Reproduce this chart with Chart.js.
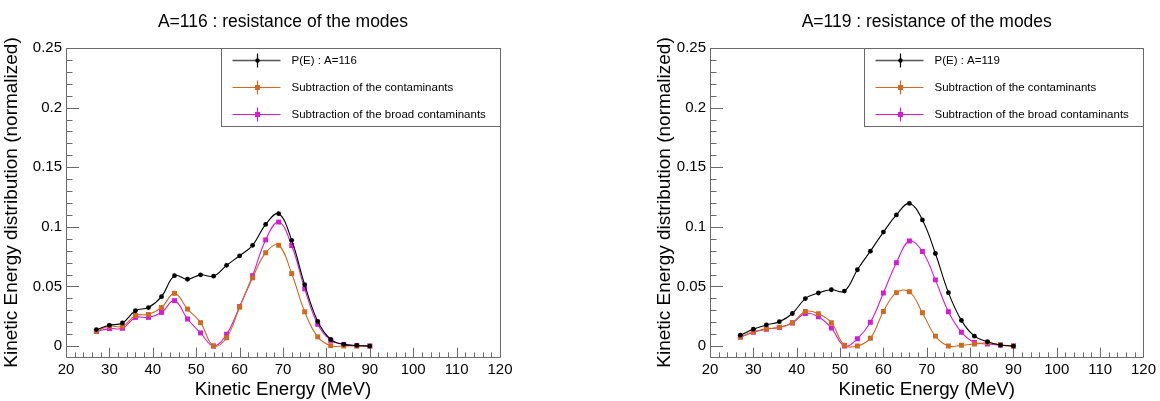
<!DOCTYPE html>
<html>
<head>
<meta charset="utf-8">
<script src="https://cdn.jsdelivr.net/npm/chart.js@4.4.1/dist/chart.umd.min.js"></script>
<style>
  html, body { margin: 0; padding: 0; background: #ffffff; }
  #wrap { position: relative; width: 1160px; height: 401px; overflow: hidden; }
  canvas { position: absolute; top: 0; }
  #c1 { left: 0; }
  #c2 { left: 580px; }
</style>
</head>
<body>
<div id="wrap">
  <canvas id="c1" width="580" height="401"></canvas>
  <canvas id="c2" width="580" height="401"></canvas>
</div>
<script>
// ---------- data ----------
const energies = [27, 30, 33, 36, 39, 42, 45, 48, 51, 54, 57, 60, 63, 66, 69, 72, 75, 78, 81, 84, 87, 90];

const a116Total = [0.0138, 0.0174, 0.0193, 0.0296, 0.0323, 0.0414, 0.0590, 0.0560, 0.0597, 0.0586, 0.0677, 0.0757,
                   0.0845, 0.1020, 0.1110, 0.0887, 0.0514, 0.0207, 0.0055, 0.0014, 0.0005, 0.0];
const a116Sub   = [0.0124, 0.0166, 0.0166, 0.0257, 0.0265, 0.0323, 0.0442, 0.0310, 0.0196, 0.0, 0.0069, 0.0326,
                   0.0572, 0.0782, 0.0845, 0.0608, 0.0287, 0.0077, 0.0003, 0.0, 0.0, 0.0];
const a116Broad = [0.0122, 0.0146, 0.0149, 0.0240, 0.0240, 0.0282, 0.0381, 0.0227, 0.0110, 0.0, 0.0099, 0.0331,
                   0.0590, 0.0890, 0.1040, 0.0843, 0.0480, 0.0182, 0.0047, 0.0014, 0.0003, 0.0];

const a119Total = [0.0091, 0.0141, 0.0177, 0.0204, 0.0273, 0.0398, 0.0445, 0.0472, 0.0461, 0.0640, 0.0796, 0.0956,
                   0.1100, 0.1196, 0.1058, 0.0776, 0.0448, 0.0215, 0.0083, 0.0036, 0.0008, 0.0];
const a119Sub   = [0.0075, 0.0119, 0.0144, 0.0157, 0.0196, 0.0290, 0.0271, 0.0196, 0.0006, 0.0, 0.0066, 0.0290,
                   0.0448, 0.0456, 0.0279, 0.0083, 0.0, 0.0006, 0.0017, 0.0028, 0.0010, 0.0];
const a119Broad = [0.0075, 0.0116, 0.0141, 0.0155, 0.0193, 0.0273, 0.0246, 0.0152, 0.0, 0.0061, 0.0199, 0.0445,
                   0.0699, 0.0881, 0.0793, 0.0555, 0.0287, 0.0116, 0.0030, 0.0017, 0.0006, 0.0];

const xTickValues = [20, 30, 40, 50, 60, 70, 80, 90, 100, 110, 120];
const yTickValues = [0, 0.05, 0.1, 0.15, 0.2, 0.25];

const titles = ['A=116 : resistance of the modes', 'A=119 : resistance of the modes'];
const legendLabels116 = ['P(E) : A=116', 'Subtraction of the contaminants', 'Subtraction of the broad contaminants'];
const legendLabels119 = ['P(E) : A=119', 'Subtraction of the contaminants', 'Subtraction of the broad contaminants'];

// ---------- style ----------
const FONT = '"Liberation Sans", Arial, Helvetica, sans-serif';
const COL_BLACK = '#000000';
const COL_ORANGE = '#d2691e';
const COL_MAGENTA = '#d61ad6';
const FRAME_COL = '#6a6a6a';

const framePlugin = {
  id: 'rootFrame',
  beforeDatasetsDraw(chart) {
    const ctx = chart.ctx;
    const ca = chart.chartArea;
    const xs = chart.scales.x, ys = chart.scales.y;
    ctx.save();
    ctx.strokeStyle = FRAME_COL;
    ctx.lineWidth = 1;
    ctx.beginPath();
    ctx.rect(Math.round(ca.left) + 0.5, Math.round(ca.top) + 0.5,
             Math.round(ca.right - ca.left), Math.round(ca.bottom - ca.top));
    ctx.stroke();
    const h = ca.bottom - ca.top, w = ca.right - ca.left;
    const xMaj = 0.03 * h, xMin = xMaj / 2;
    ctx.beginPath();
    for (let v = 20; v <= 120 + 1e-9; v += 2) {
      const px = Math.round(xs.getPixelForValue(v)) + 0.5;
      const len = (Math.abs(v % 10) < 1e-9) ? xMaj : xMin;
      ctx.moveTo(px, ca.bottom);
      ctx.lineTo(px, ca.bottom - len);
    }
    const yMaj = 0.03 * w, yMin = yMaj / 2;
    for (let i = 0; i <= 25; i++) {
      const v = i * 0.01;
      const py = Math.round(ys.getPixelForValue(v)) + 0.5;
      const len = (i % 5 === 0) ? yMaj : yMin;
      ctx.moveTo(ca.left, py);
      ctx.lineTo(ca.left + len, py);
    }
    ctx.stroke();
    ctx.restore();
  },
  afterDraw(chart) {
    const ctx = chart.ctx;
    const ca = chart.chartArea;
    const labels = chart.options.plugins.rootLegend.labels;
    const bw = 279, bh = 78;
    const x0 = Math.round(ca.right - bw) + 0.5, y0 = Math.round(ca.top) + 0.5;
    ctx.save();
    ctx.fillStyle = '#ffffff';
    ctx.fillRect(x0, y0, bw, bh);
    ctx.strokeStyle = FRAME_COL;
    ctx.lineWidth = 1;
    ctx.strokeRect(x0, y0, bw, bh);
    const rows = [12, 39, 66];
    chart.data.datasets.forEach((ds, i) => {
      const y = Math.round(ca.top + rows[i]) + 0.5;
      const mx = x0 + 36;
      ctx.strokeStyle = i === 0 ? '#555555' : ds.borderColor;
      ctx.lineWidth = i === 0 ? 1.6 : 1.2;
      ctx.beginPath();
      ctx.moveTo(x0 + 11, y); ctx.lineTo(x0 + 59, y);
      ctx.stroke();
      ctx.strokeStyle = ds.borderColor;
      ctx.lineWidth = 1.2;
      ctx.beginPath();
      ctx.moveTo(mx, y - 7); ctx.lineTo(mx, y + 7);
      ctx.stroke();
      ctx.fillStyle = ds.pointBackgroundColor;
      ctx.beginPath();
      if (ds.pointStyle === 'circle') {
        ctx.arc(mx, y, 2.2, 0, Math.PI * 2);
      } else {
        ctx.rect(mx - 2.5, y - 2.5, 5, 5);
      }
      ctx.fill();
      ctx.fillStyle = '#000000';
      ctx.font = '11.5px ' + FONT;
      ctx.textAlign = 'left';
      ctx.textBaseline = 'middle';
      ctx.fillText(labels[i], x0 + 70, y);
    });
    ctx.restore();
  }
};

function makeDataset(label, values, color, style) {
  return {
    label: label,
    data: energies.map((e, i) => ({ x: e, y: values[i] })),
    borderColor: color,
    backgroundColor: color,
    pointBackgroundColor: color,
    pointBorderColor: color,
    pointBorderWidth: 0,
    pointStyle: style,
    pointRadius: style === 'circle' ? 2.4 : 3.5,
    borderWidth: 1.1,
    tension: 0.4,
    fill: false
  };
}

function makeChart(id, title, legendLabels, tot, sub, broad, side) {
  const isLeft = side === 'left';
  const padLeft = isLeft ? 0 : 70;
  const yWidth = isLeft ? 66 : 60;
  const padRight = isLeft ? 80 : 16;
  const yTitlePad = isLeft ? 0.5 : 3.5;
  return new Chart(document.getElementById(id), {
    type: 'line',
    data: {
      datasets: [
        makeDataset(legendLabels[0], tot, COL_BLACK, 'circle'),
        makeDataset(legendLabels[1], sub, COL_ORANGE, 'rect'),
        makeDataset(legendLabels[2], broad, COL_MAGENTA, 'rect')
      ]
    },
    options: {
      responsive: false,
      animation: false,
      devicePixelRatio: 1,
      layout: { padding: { left: padLeft, right: padRight, top: 11.5, bottom: 0 } },
      plugins: {
        legend: { display: false },
        tooltip: { enabled: false },
        title: {
          display: true,
          text: title,
          color: '#000000',
          font: { family: FONT, size: 17.5, weight: 'normal' },
          padding: { top: 0, bottom: 15.5 },
          fullSize: false
        },
        rootLegend: { labels: legendLabels }
      },
      scales: {
        x: {
          type: 'linear',
          min: 20, max: 120,
          grid: { display: false, drawTicks: false },
          border: { display: false },
          afterBuildTicks(scale) { scale.ticks = xTickValues.map(v => ({ value: v })); },
          afterFit(scale) { scale.height = 44; },
          ticks: {
            color: '#000000',
            padding: 4,
            maxRotation: 0,
            autoSkip: false,
            font: { family: FONT, size: 15 },
            callback: (v) => String(v)
          },
          title: {
            display: true,
            text: 'Kinetic Energy (MeV)',
            color: '#000000',
            font: { family: FONT, size: 18.7 },
            padding: { top: 0, bottom: 0 }
          }
        },
        y: {
          type: 'linear',
          min: -0.0092, max: 0.25,
          grid: { display: false, drawTicks: false },
          border: { display: false },
          afterBuildTicks(scale) { scale.ticks = yTickValues.map(v => ({ value: v })); },
          afterFit(scale) { scale.width = yWidth; },
          ticks: {
            color: '#000000',
            padding: 4,
            autoSkip: false,
            font: { family: FONT, size: 15 },
            callback: (v) => String(+Number(v).toFixed(2))
          },
          title: {
            display: true,
            text: 'Kinetic Energy distribution (normalized)',
            color: '#000000',
            font: { family: FONT, size: 19 },
            padding: { top: yTitlePad, bottom: 0 }
          }
        }
      }
    },
    plugins: [framePlugin]
  });
}

makeChart('c1', titles[0], legendLabels116, a116Total, a116Sub, a116Broad, 'left');
makeChart('c2', titles[1], legendLabels119, a119Total, a119Sub, a119Broad, 'right');
</script>
</body>
</html>
